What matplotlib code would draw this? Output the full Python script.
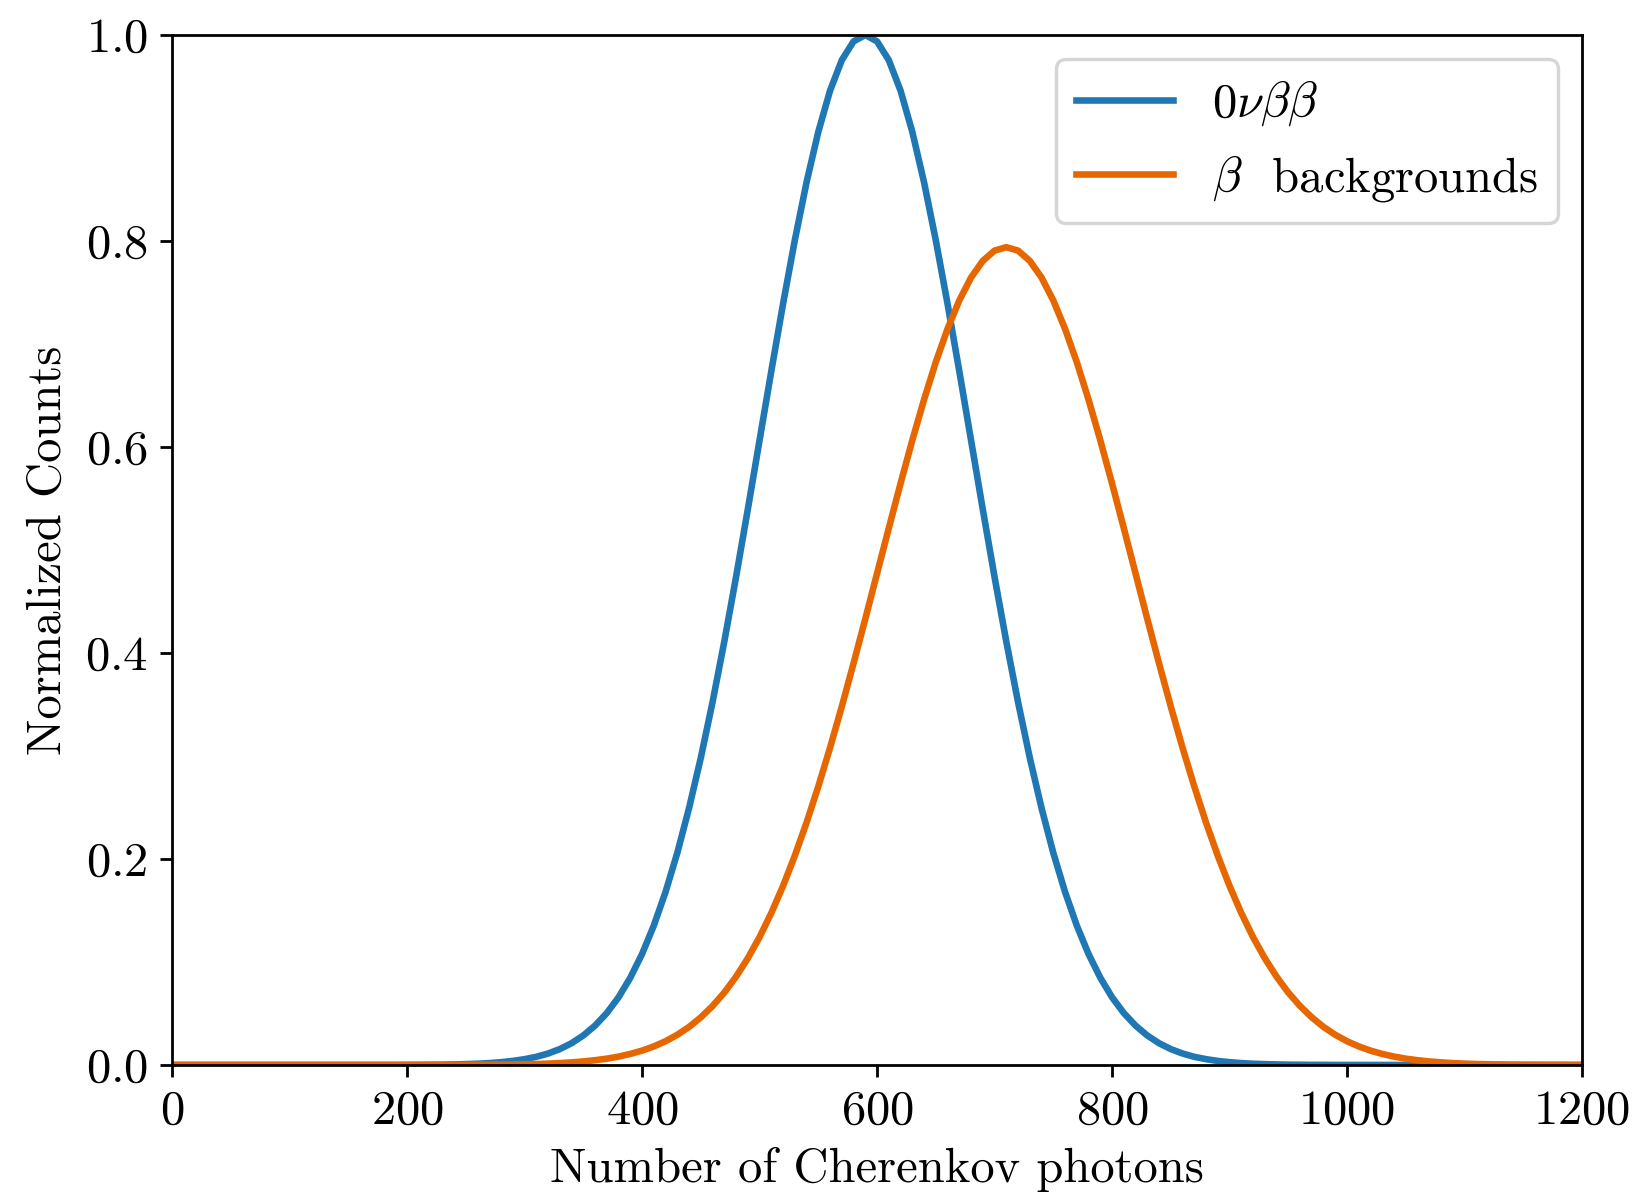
import matplotlib
matplotlib.use("Agg")
import matplotlib.pyplot as plt

plt.rcParams["font.family"] = "serif"
plt.rcParams["font.serif"] = ["cmr10"]
plt.rcParams["mathtext.fontset"] = "cm"
plt.rcParams["axes.formatter.use_mathtext"] = True
plt.rcParams["font.size"] = 14

# number of Cherenkov photons (x positions of the curves)
photons = [0, 180, 190,
           200, 210, 220, 230, 240, 250, 260, 270, 280, 290,
           300, 310, 320, 330, 340, 350, 360, 370, 380, 390,
           400, 410, 420, 430, 440, 450, 460, 470, 480, 490,
           500, 510, 520, 530, 540, 550, 560, 570, 580, 590,
           600, 610, 620, 630, 640, 650, 660, 670, 680, 690,
           700, 710, 720, 730, 740, 750, 760, 770, 780, 790,
           800, 810, 820, 830, 840, 850, 860, 870, 880, 890,
           900, 910, 920, 930, 940, 950, 960, 970, 980, 990,
           1000, 1010, 1020, 1030, 1040, 1050, 1060, 1070, 1080, 1090,
           1100, 1110, 1120, 1130, 1140, 1150, 1160, 1170, 1180, 1190,
           1200]

# 0vbb signal, normalized counts
signal = [0, 0, 0,
          .0001, .0001, .0002, .0003, .0005, .0008, .0012, .0018, .0027, .0039,
          .0056, .0079, .0111, .0154, .0211, .0286, .0382, .0504, .0657, .0847,
          .1077, .1353, .1680, .2059, .2494, .2982, .3523, .4111, .4738, .5394,
          .6065, .6736, .7390, .8007, .8570, .9060, .9460, .9756, .9938, 1.0,
          .9938, .9756, .9460, .9060, .8570, .8007, .7390, .6736, .6065, .5394,
          .4738, .4111, .3523, .2982, .2494, .2059, .1680, .1353, .1077, .0847,
          .0657, .0504, .0382, .0286, .0211, .0154, .0111, .0079, .0056, .0039,
          .0027, .0018, .0012, .0008, .0005, .0003, .0002, .0001, .0001, 0,
          0, 0, 0, 0, 0, 0, 0, 0, 0, 0,
          0, 0, 0, 0, 0, 0, 0, 0, 0, 0,
          0]

# beta backgrounds, normalized counts
background = [0, 0, 0,
              0, 0, 0, 0, .0001, .0001, .0002, .0002, .0003, .0005,
              .0007, .0009, .0013, .0018, .0025, .0034, .0046, .0061, .0081, .0107,
              .0139, .0180, .0230, .0293, .0369, .0462, .0572, .0703, .0857, .1036,
              .1241, .1475, .1738, .2031, .2353, .2704, .3080, .3480, .3899, .4331,
              .4772, .5212, .5646, .6065, .6460, .6824, .7147, .7423, .7645, .7807,
              .7907, .794, .7907, .7807, .7645, .7423, .7147, .6824, .6460, .6065,
              .5646, .5212, .4772, .4331, .3899, .3480, .3080, .2704, .2353, .2031,
              .1738, .1475, .1241, .1036, .0857, .0703, .0572, .0462, .0369, .0293,
              .0230, .0180, .0139, .0107, .0081, .0061, .0046, .0034, .0025, .0018,
              .0013, .0009, .0007, .0005, .0003, .0002, .0002, .0001, .0001, 0,
              0]

fig = plt.figure(figsize=(6.536, 4.796), dpi=250)
ax = fig.add_axes([0.1053, 0.1118, 0.8629, 0.859])

ax.plot(photons, signal, color="#1f77b4", lw=1.9, label=r"$0\nu\beta\beta$")
ax.plot(photons, background, color="#e66700", lw=1.9, label=r"$\beta$  backgrounds")

ax.set_xlim(0, 1200)
ax.set_ylim(0, 1.0)
ax.set_xlabel("Number of Cherenkov photons")
ax.set_ylabel("Normalized Counts")
ax.legend(loc="upper right")

fig.savefig("out.png", dpi=250)
